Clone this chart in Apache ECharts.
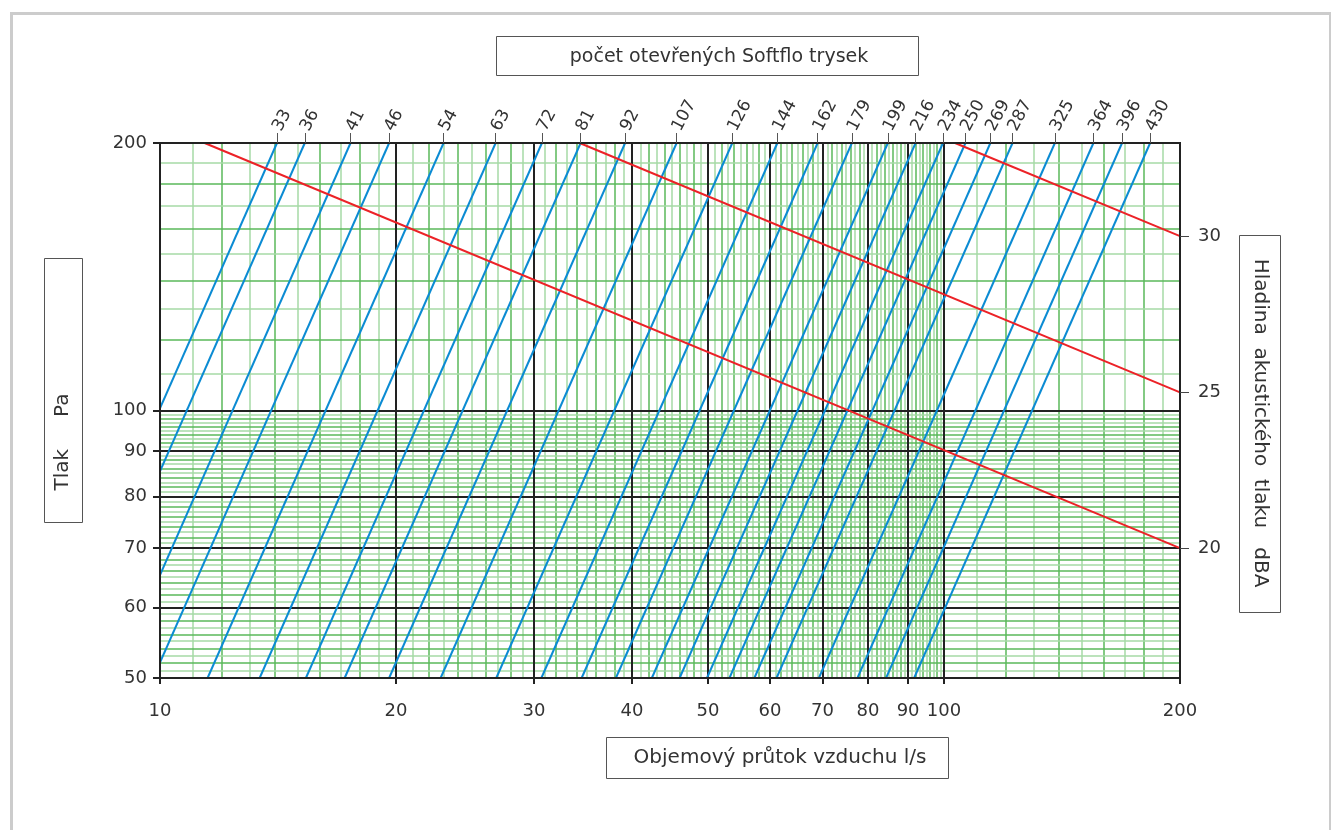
<!DOCTYPE html>
<html>
<head>
<meta charset="utf-8">
<script src="https://cdn.jsdelivr.net/npm/echarts@6/dist/echarts.min.js"></script>
<style>html,body{margin:0;padding:0;background:#fff}#c{width:1331px;height:830px}</style>
</head>
<body>
<div id="c"></div>
<script>
// Nozzle counts (top labels) and flow (l/s) of each blue line at 200 Pa and at 50 Pa
var nozzles    = [33, 36, 41, 46, 54, 63, 72, 81, 92, 107, 126, 144, 162, 179, 199, 216, 234, 250, 269, 287, 325, 364, 396, 430];
var flowAt200  = [14.1, 15.3, 17.5, 19.6, 23.0, 26.8, 30.7, 34.4, 39.2, 45.6, 53.7, 61.3, 69.0, 76.3, 84.8, 92.0, 99.7, 106.5, 114.6, 122.3, 138.5, 155.1, 168.7, 183.2];
var flowAt50   = [7.05, 7.65, 8.75, 9.8, 11.5, 13.4, 15.35, 17.2, 19.6, 22.8, 26.85, 30.65, 34.5, 38.15, 42.4, 46.0, 49.85, 53.25, 57.3, 61.15, 69.25, 77.55, 84.35, 91.6];

// Sound level lines (dBA): start flow at 200 Pa, pressure at 200 l/s
var dbaLevels     = [20, 25, 30];
var dbaStartFlow  = [11.4, 34.3, 103.3];
var dbaEndPress   = [70, 104.8, 157.1];

// Axis tick labels
var xTicks = [10, 20, 30, 40, 50, 60, 70, 80, 90, 100, 200];
var yTicks = [50, 60, 70, 80, 90, 100, 200];

// Grid lines
var xMajorGrid = [20, 30, 40, 50, 60, 70, 80, 90, 100];
var yMajorGrid = [60, 70, 80, 90, 100];
var xMinorGrid = [11,12,13,14,15,16,17,18,19, 21,22,23,24,25,26,27,28,29, 31,32,33,34,35,36,37,38,39,
  41,42,43,44,45,46,47,48,49, 51,52,53,54,55,56,57,58,59, 61,62,63,64,65,66,67,68,69,
  71,72,73,74,75,76,77,78,79, 81,82,83,84,85,86,87,88,89, 91,92,93,94,95,96,97,98,99,
  110,120,130,140,150,160,170,180,190];
var yMinorGrid = [51,52,53,54,55,56,57,58,59, 61,62,63,64,65,66,67,68,69, 71,72,73,74,75,76,77,78,79,
  81,82,83,84,85,86,87,88,89, 91,92,93,94,95,96,97,98,99, 110,120,130,140,150,160,170,180,190];

var FONT = 'DejaVu Sans';
var TXT = '#333';
var chart = echarts.init(document.getElementById('c'), null, {renderer: 'canvas'});

var LIGHT = '#a6daa6', DARK = '#5ab85a';
var minorLines = [];
xMinorGrid.forEach(function (v) {
  minorLines.push({xAxis: v, lineStyle: {color: (v % 2 === 1 || (v > 100 && v % 20 === 10)) ? LIGHT : DARK, width: 1.5, type: 'solid'}});
});
yMinorGrid.forEach(function (v) {
  minorLines.push({yAxis: v, lineStyle: {color: (v % 2 === 1 || (v > 100 && v % 20 === 10)) ? LIGHT : DARK, width: 1.5, type: 'solid'}});
});
var majorLines = [];
xMajorGrid.forEach(function (v) { majorLines.push({xAxis: v}); });
yMajorGrid.forEach(function (v) { majorLines.push({yAxis: v}); });

var series = [
  {type: 'line', name: 'gridMinor', data: [], z: 1, silent: true, xAxisIndex: 0, yAxisIndex: 0,
   markLine: {z: 1, zlevel: 0, silent: true, symbol: ['none', 'none'], label: {show: false}, animation: false, data: minorLines}},
  {type: 'line', name: 'gridMajor', data: [], z: 2, silent: true, xAxisIndex: 0, yAxisIndex: 0,
   markLine: {z: 2, zlevel: 0, silent: true, symbol: ['none', 'none'], label: {show: false}, animation: false,
     lineStyle: {color: '#222', width: 2, type: 'solid'}, data: majorLines}}
];
nozzles.forEach(function (n, i) {
  series.push({type: 'line', name: 'N' + n, xAxisIndex: 0, yAxisIndex: 0, z: 10,
    data: [[flowAt50[i], 50], [flowAt200[i], 200]],
    showSymbol: false, symbol: 'none', clip: true,
    lineStyle: {color: '#0b8bd3', width: 2}});
});
dbaLevels.forEach(function (d, i) {
  series.push({type: 'line', name: 'dBA' + d, xAxisIndex: 0, yAxisIndex: 0, z: 11,
    data: [[dbaStartFlow[i], 200], [200, dbaEndPress[i]]],
    showSymbol: false, symbol: 'none', clip: true,
    lineStyle: {color: '#ec2227', width: 2}});
});

function fmtNum(v) { return String(Math.round(v)); }

var option = {
  animation: false,
  backgroundColor: '#fff',
  grid: {left: 160, right: 151, top: 143, bottom: 152, show: true, borderColor: '#222', borderWidth: 2, backgroundColor: '#fff'},
  xAxis: [
    {type: 'log', logBase: 10, min: 10, max: 200, position: 'bottom', z: 20,
     axisLine: {show: true, lineStyle: {color: '#222', width: 2}},
     axisTick: {show: true, inside: false, length: 6, customValues: xTicks, lineStyle: {color: '#222', width: 2}},
     axisLabel: {customValues: xTicks, formatter: fmtNum, margin: 24, color: TXT, fontFamily: FONT, fontSize: 18},
     splitLine: {show: false}, minorTick: {show: false}, minorSplitLine: {show: false}},
    {type: 'log', logBase: 10, min: 10, max: 200, position: 'top', z: 20,
     axisLine: {show: true, lineStyle: {color: '#222', width: 2}},
     axisTick: {show: true, inside: false, length: 10, customValues: flowAt200, lineStyle: {color: '#555', width: 1}},
     axisLabel: {customValues: flowAt200, rotate: -62, margin: 13, color: TXT, fontFamily: FONT, fontSize: 17,
       formatter: function (v) {
         var best = 0, bd = Infinity;
         flowAt200.forEach(function (f, i) { var d = Math.abs(f - v); if (d < bd) { bd = d; best = i; } });
         return String(nozzles[best]);
       }},
     splitLine: {show: false}}
  ],
  yAxis: [
    {type: 'log', logBase: 10, min: 50, max: 200, position: 'left', z: 20,
     axisLine: {show: true, lineStyle: {color: '#222', width: 2}},
     axisTick: {show: true, inside: false, length: 7, customValues: yTicks, lineStyle: {color: '#222', width: 2}},
     axisLabel: {customValues: yTicks, formatter: fmtNum, margin: 13, color: TXT, fontFamily: FONT, fontSize: 18},
     splitLine: {show: false}},
    {type: 'log', logBase: 10, min: 50, max: 200, position: 'right', z: 20,
     axisLine: {show: true, lineStyle: {color: '#222', width: 2}},
     axisTick: {show: true, inside: false, length: 9, customValues: dbaEndPress, lineStyle: {color: '#444', width: 1}},
     axisLabel: {customValues: dbaEndPress, margin: 18, color: TXT, fontFamily: FONT, fontSize: 18,
       formatter: function (v) {
         var best = 0, bd = Infinity;
         dbaEndPress.forEach(function (p, i) { var d = Math.abs(p - v); if (d < bd) { bd = d; best = i; } });
         return String(dbaLevels[best]);
       }},
     splitLine: {show: false}}
  ],
  graphic: [
    {type: 'rect', left: 9, top: 11, shape: {width: 1319, height: 840}, style: {fill: 'none', stroke: '#cccccc', lineWidth: 3}, silent: true},
    {type: 'rect', left: 496, top: 36, shape: {width: 422, height: 39}, style: {fill: '#fff', stroke: '#555', lineWidth: 1}},
    {type: 'text', x: 719, y: 57, style: {text: 'počet otevřených Softflo trysek', fill: TXT, font: '19px "' + FONT + '"', align: 'center', verticalAlign: 'middle'}},
    {type: 'rect', left: 606, top: 737, shape: {width: 342, height: 41}, style: {fill: '#fff', stroke: '#555', lineWidth: 1}},
    {type: 'text', x: 780, y: 758, style: {text: 'Objemový průtok vzduchu l/s', fill: TXT, font: '20px "' + FONT + '"', align: 'center', verticalAlign: 'middle'}},
    {type: 'rect', left: 44, top: 258, shape: {width: 38, height: 264}, style: {fill: '#fff', stroke: '#555', lineWidth: 1}},
    {type: 'text', x: 63, y: 442, rotation: Math.PI / 2, style: {text: 'Tlak     Pa', fill: TXT, font: '20px "' + FONT + '"', align: 'center', verticalAlign: 'middle'}},
    {type: 'rect', left: 1239, top: 235, shape: {width: 41, height: 377}, style: {fill: '#fff', stroke: '#555', lineWidth: 1}},
    {type: 'text', x: 1260, y: 423, rotation: -Math.PI / 2, style: {text: 'Hladina  akustického  tlaku   dBA', fill: TXT, font: '20px "' + FONT + '"', align: 'center', verticalAlign: 'middle'}}
  ],
  series: series
};
chart.setOption(option);
</script>
</body>
</html>
